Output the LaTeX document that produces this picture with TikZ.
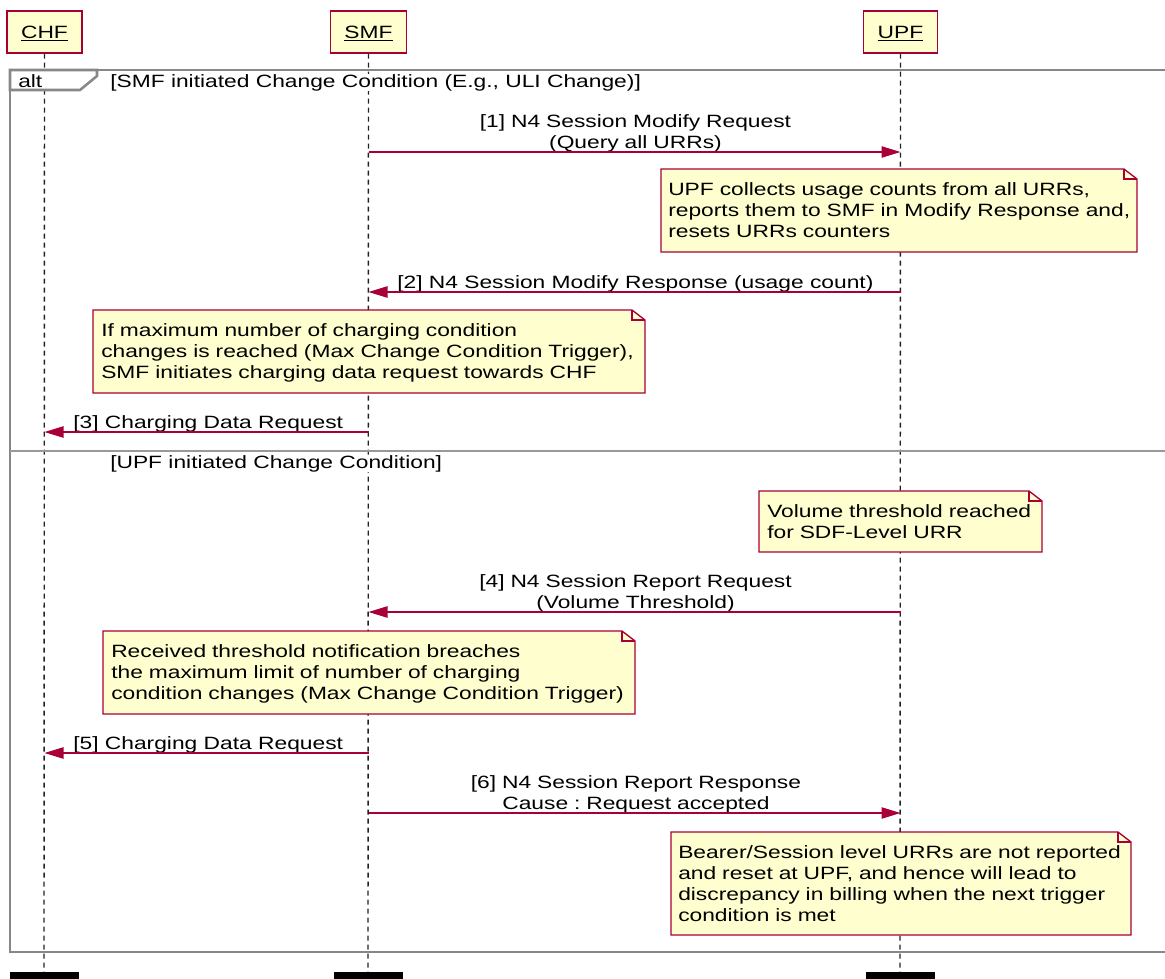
\documentclass[tikz,border=0pt]{standalone}
\usepackage{fontspec}
\setmainfont{Liberation Sans}[FakeStretch=1.28]
\usetikzlibrary{arrows.meta}
\definecolor{pubred}{HTML}{A80036}
\definecolor{pubfill}{HTML}{FEFECE}
\definecolor{framegray}{HTML}{878787}
\definecolor{lifegray}{HTML}{222222}
\frenchspacing
\newcommand\undl[1]{\leavevmode\setbox0\hbox{#1}\rlap{\rule[-2.2pt]{\wd0}{0.9pt}}\box0}
\newcommand\notebox[4]{%
  \filldraw[notebg] (#1,#2) -- (#3-13,#2) -- (#3,#2+10) -- (#3,#4) -- (#1,#4) -- cycle;
  \draw[notebg, fill=none] (#3-13,#2) -- (#3-13,#2+10) -- (#3,#2+10);}
\begin{document}
\begin{tikzpicture}[x=0.75pt,y=-0.75pt,
  every node/.style={font=\fontsize{13.35pt}{15.75pt}\selectfont\frenchspacing, inner sep=0pt},
  part/.style={draw=pubred, fill=pubfill, line width=1pt, inner xsep=10.5pt,
    minimum height=31.5pt, text height=9.5pt, text depth=0pt},
  endbox/.style={fill=black, draw=none, minimum width=51.75pt, minimum height=15pt, anchor=north},
  life/.style={draw=lifegray, line width=1.05pt, dash pattern=on 3.75pt off 3pt},
  frame/.style={draw=framegray, line width=1.9pt, line join=miter},
  sep/.style={draw=framegray!85, line width=1pt},
  msg/.style={draw=pubred, line width=0.95pt, -{Triangle[length=14.25pt,width=8.5pt]}},
  lbl/.style={anchor=base west},
  mlbl/.style={anchor=base, text width=450pt, align=center},
  notebg/.style={fill=pubfill, draw=pubred, line width=1pt, line join=miter},
  ntext/.style={anchor=base west, text width=450pt, align=left},
]
\useasboundingbox (0,0) rectangle (1165,979);

% participants
\node[part] (CHF) at (44.5,32) {\undl{CHF}};
\node[part] (SMF) at (368.5,32) {\undl{SMF}};
\node[part] (UPF) at (900.5,32) {\undl{UPF}};
\node[endbox] (CHFe) at (44,972) {};
\node[endbox] (SMFe) at (368,972) {};
\node[endbox] (UPFe) at (900,972) {};

% lifelines
\draw[life] (CHF.south) -- (CHFe.north);
\draw[life] (SMF.south) -- (SMFe.north);
\draw[life] (UPF.south) -- (UPFe.north);

% alt frame
\draw[frame] (10,70) rectangle (1180,952);
\draw[sep] (10,451) -- (1180,451);
\draw[frame, fill=white] (10,70) -- (97,70) -- (97,76) -- (80,90) -- (10,90) -- cycle;
\node[lbl] (alt) at (18,87) {alt};
\node[lbl, fill=white] (g1) at (110,87) {[SMF initiated Change Condition (E.g., ULI Change)]};
\node[lbl, fill=white] (g2) at (110,468) {[UPF initiated Change Condition]};

% [1]
\node[mlbl] (l1) at (635.5,127) {[1] N4 Session Modify Request\\(Query all URRs)};
\draw[msg] (SMF |- 0,152) -- (UPF |- 0,152);
\notebox{661}{169}{1137}{252}
\node[ntext] (n1) at (668,195) {UPF collects usage counts from all URRs,\\reports them to SMF in Modify Response and,\\resets URRs counters};

% [2]
\node[lbl] (l2) at (397,288) {[2] N4 Session Modify Response (usage count)};
\draw[msg] (UPF |- 0,292) -- (SMF |- 0,292);
\notebox{93}{310}{645}{393}
\node[ntext] (n2) at (101,336) {If maximum number of charging condition\\changes is reached (Max Change Condition Trigger),\\SMF initiates charging data request towards CHF};

% [3]
\node[lbl] (l3) at (73,428) {[3] Charging Data Request};
\draw[msg] (SMF |- 0,432) -- (CHF |- 0,432);

% UPF initiated
\notebox{759}{491}{1042}{552}
\node[ntext] (n3) at (767,517) {Volume threshold reached\\for SDF-Level URR};

% [4]
\node[mlbl] (l4) at (635.5,587) {[4] N4 Session Report Request\\(Volume Threshold)};
\draw[msg] (UPF |- 0,612) -- (SMF |- 0,612);
\notebox{103}{631}{635}{714}
\node[ntext] (n4) at (111,657) {Received threshold notification breaches\\the maximum limit of number of charging\\condition changes (Max Change Condition Trigger)};

% [5]
\node[lbl] (l5) at (73,749) {[5] Charging Data Request};
\draw[msg] (SMF |- 0,753) -- (CHF |- 0,753);

% [6]
\node[mlbl] (l6) at (636,788) {[6] N4 Session Report Response\\Cause : Request accepted};
\draw[msg] (SMF |- 0,813) -- (UPF |- 0,813);
\notebox{671}{832}{1131}{935}
\node[ntext] (n5) at (678,858) {Bearer/Session level URRs are not reported\\and reset at UPF, and hence will lead to\\discrepancy in billing when the next trigger\\condition is met};
\end{tikzpicture}
\end{document}
